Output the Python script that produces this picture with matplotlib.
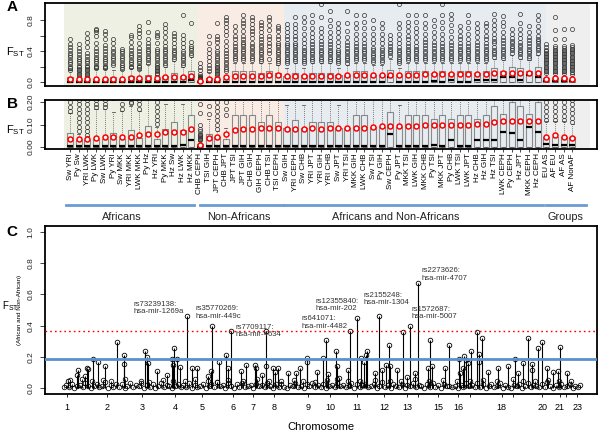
import matplotlib
matplotlib.use('Agg')
import matplotlib.pyplot as plt
from matplotlib.transforms import blended_transform_factory

plt.rcParams['font.family'] = ['Liberation Sans', 'DejaVu Sans']

# ---- panel A / B : pairwise FST boxplots ----
pairs = ['Sw YRI', 'Py Sw', 'YRI LWK', 'Py LWK', 'Sw LWK', 'Py YRI', 'Sw MKK', 'YRI MKK',
         'LWK MKK', 'Py Hz', 'Hz YRI', 'Py MKK', 'Hz Sw', 'Hz LWK', 'Hz MKK',
         'CHB CEPH', 'TSI GIH', 'JPT CEPH', 'CHB JPT', 'JPT TSI', 'JPT GIH', 'CHB GIH',
         'GIH CEPH', 'CHB TSI', 'TSI CEPH',
         'Sw GIH', 'YRI CEPH', 'Sw CHB', 'YRI JPT', 'YRI GIH', 'YRI CHB', 'Sw JPT', 'YRI TSI',
         'MKK GIH', 'LWK CHB', 'Sw TSI', 'Py GIH', 'Sw CEPH', 'Py JPT', 'MKK TSI', 'LWK GIH',
         'MKK CHB', 'Py TSI', 'MKK JPT', 'Py CHB', 'LWK TSI', 'LWK JPT', 'Hz CHB', 'Hz GIH',
         'Hz TSI', 'LWK CEPH', 'Py CEPH', 'Hz JPT', 'MKK CEPH', 'Hz CEPH',
         'EU AS', 'AF EU', 'AF AS', 'AF NonAF']

q3 = [.062, .033, .032, .035, .035, .062, .035, .074, .040, .095, .035, .080, .111, .077, .143,
      .012, .057, .043, .035, .145, .145, .145, .112, .145, .112,
      .084, .120, .087, .112, .112, .112, .087, .087, .144, .144, .090, .090, .157, .090, .144,
      .144, .144, .123, .144, .123, .144, .144, .123, .144, .184, .147, .200, .184, .147, .200,
      .047, .047, .047, .043]
med = [.003] * 13 + [.007, .032,
       .001, .003, .003, .003, .003, .003, .003, .003, .003, .003,
       .003, .003, .003, .003, .003, .003, .003, .003, .003, .003, .003, .003, .060, .003, .003,
       .003, .003, .009, .003, .030, .003, .003, .030, .030, .030, .068, .062, .030, .090, .065,
       .012, .010, .010, .010]
means = [.037, .037, .038, .040, .043, .046, .046, .047, .053, .058, .059, .065, .066, .068, .080,
         .010, .040, .045, .060, .077, .081, .081, .084, .086, .087,
         .079, .080, .080, .083, .080, .084, .083, .086, .087, .087, .090, .092, .092, .095, .096,
         .096, .098, .098, .099, .099, .100, .100, .103, .105, .112, .115, .115, .117, .117, .118,
         .044, .052, .047, .041]
whis = [.15, .06, .05, .17, .17, .155, .16, .185, .16, .235, .09, .19, .275, .19, .33,
        .025, .125, .07, .085, .25, .25, .25, .24, .25, .22,
        .187, .24, .187, .24, .24, .24, .187, .215, .25, .25, .225, .225, .30, .187, .25,
        .25, .25, .25, .25, .25, .25, .25, .25, .25, .30, .28, .35, .30, .28, .35,
        .115, .115, .115, .105]
fliers = [
    [.16, .18, .20, .23, .26, .29, .32, .35, .38, .41, .45, .49, .55],
    [.07, .09, .11, .13, .15, .17, .19, .21, .24, .27, .30, .33, .36, .40, .44, .49],
    [.055, .07, .09, .11, .13, .15, .17, .19, .21, .24, .27, .30, .34, .38, .45, .52, .57, .63],
    [.18, .19, .21, .24, .27, .30, .33, .36, .40, .44, .50, .60, .64, .67, .69],
    [.18, .19, .21, .24, .27, .30, .33, .36, .40, .44, .48, .55, .62, .66],
    [.22, .25, .28, .31, .34, .37, .40, .44, .50, .55],
    [.17, .19, .22, .25, .28, .31, .34, .37, .40, .43],
    [.195, .20, .23, .26, .29, .32, .35, .38, .41, .45, .52, .58, .61],
    [.17, .19, .21, .24, .27, .30, .33, .36, .40, .44, .50, .58, .63, .67, .72],
    [.25, .28, .31, .34, .37, .40, .43, .47, .51, .56, .65, .78],
    [.105, .12, .14, .16, .18, .20, .22, .25, .28, .31, .34, .37, .40, .43, .50, .58, .61, .65],
    [.22, .25, .28, .31, .34, .37, .40, .43, .46, .52, .58, .64, .70, .75],
    [.30, .33, .36, .39, .42, .45, .50, .55, .60, .63],
    [.22, .25, .28, .31, .34, .37, .40, .45, .50, .55, .61, .86],
    [.35, .38, .41, .44, .47, .52, .76],
    [.03, .035, .04, .045, .05, .055, .06, .07, .08, .10, .15, .19, .24],
    [.146, .183, .22, .27, .32, .37, .43, .50, .60],
    [.08, .10, .12, .14, .16, .18, .20, .22, .25, .28, .31, .34, .37, .40, .45, .52, .56, .60, .76],
    [.145, .17, .20, .23, .26, .30, .34, .37, .42, .46, .53, .61, .66, .71, .76, .80, .84],
    [.28, .31, .34, .37, .40, .43, .46, .50, .55, .60, .66, .72],
    [.28, .31, .34, .37, .40, .43, .46, .49, .52, .55, .60, .66, .72, .76, .80, .86],
    [.28, .31, .34, .37, .40, .44, .47, .50, .57, .62, .66, .70, .75, .80, .84],
    [.27, .30, .33, .36, .39, .42, .45, .48, .52, .55, .60, .64, .70, .74, .77],
    [.30, .37, .42, .46, .50, .55, .60, .67, .74, .80, .84],
    [.24, .27, .30, .33, .36, .39, .42, .45, .48, .51, .55, .60, .66, .70, .73],
    [.24, .27, .30, .33, .36, .39, .42, .45, .48, .51, .55, .60, .65, .70, .75],
    [.27, .30, .33, .36, .39, .42, .45, .48, .51, .55, .60, .65, .70, .75, .84],
    [.24, .27, .30, .33, .36, .39, .42, .45, .50, .55, .62, .70, .78, .84],
    [.27, .30, .33, .36, .39, .42, .45, .49, .53, .58, .63, .70, .78, .86],
    [.27, .30, .33, .36, .39, .42, .45, .49, .53, .58, .64, .70, .84, 1.01],
    [.27, .30, .33, .36, .39, .42, .45, .49, .53, .58, .64, .72, .80, .92],
    [.24, .27, .30, .33, .36, .39, .42, .46, .52, .58, .64, .70, .76],
    [.25, .28, .31, .34, .37, .40, .44, .48, .52, .58, .66, .76, .92],
    [.28, .31, .34, .37, .40, .43, .46, .50, .55, .62, .70, .76, .86],
    [.28, .31, .34, .37, .40, .43, .46, .50, .55, .62, .70, .78, .86],
    [.26, .29, .32, .35, .38, .41, .44, .50, .56, .62, .70, .80],
    [.26, .29, .32, .35, .38, .41, .44, .50, .56, .62, .70, .76],
    [.34, .37, .40, .43, .46, .50, .55, .61],
    [.24, .27, .30, .33, .36, .39, .42, .45, .50, .55, .62, .70, .76, 1.01],
    [.28, .31, .34, .37, .40, .43, .46, .50, .55, .60, .66, .72, .78, .86],
    [.28, .31, .34, .37, .40, .43, .47, .52, .58, .64, .70, .78, .86],
    [.28, .31, .34, .37, .40, .44, .48, .52, .56, .62, .70, .76, .86],
    [.28, .31, .34, .37, .40, .44, .48, .52, .58, .64, .72, .80],
    [.28, .31, .34, .37, .40, .43, .46, .50, .55, .62, .70, .78, .86, 1.01],
    [.28, .31, .34, .37, .40, .44, .48, .52, .58, .66, .74, .82, .88],
    [.28, .31, .34, .37, .40, .43, .46, .50, .55, .60, .66, .73],
    [.28, .31, .34, .37, .40, .43, .46, .50, .55, .62, .70, .78, .86],
    [.28, .31, .34, .37, .40, .44, .48, .52, .58, .64, .70, .76],
    [.28, .31, .34, .37, .40, .43, .46, .50, .55, .60, .66, .72, .76],
    [.33, .36, .39, .42, .45, .50, .53, .57, .62, .68, .74, .80, .88],
    [.31, .34, .37, .40, .43, .47, .50, .54, .58, .64, .72, .78, .85],
    [.38, .41, .44, .47, .50, .53, .57, .62, .69],
    [.33, .36, .39, .42, .45, .48, .52, .57, .62, .68, .76, .88],
    [.31, .34, .37, .40, .43, .47, .50, .54, .58, .64, .73],
    [.38, .41, .44, .47, .50, .53, .56, .60, .66, .72, .80, .86],
    [.12, .14, .16, .18, .20, .22, .24, .26, .28, .30, .32, .34, .36, .38, .40, .42, .45, .49],
    [.12, .14, .16, .18, .20, .22, .24, .26, .28, .30, .32, .34, .36, .38, .40, .42, .44, .46,
     .55, .67, .84],
    [.12, .14, .16, .18, .20, .22, .24, .26, .28, .30, .32, .34, .36, .38, .40, .42, .44, .46,
     .55, .69],
    [.11, .13, .15, .17, .19, .21, .23, .25, .27, .29, .31, .33, .35, .37, .39, .41, .43, .45,
     .48, .69],
]

# shaded comparison regions (in box-index units)
region_start = [0.31, 15.78, 25.71, 55.97]
region_end = [15.78, 25.71, 55.97, 61.05]
region_color = ['#edf0e3', '#f8ece4', '#e7ecf1', '#efefef']

groups = ['Africans', 'Non-Africans', 'Africans and Non-Africans', 'Groups']
group_start = [0.54, 16.0, 25.7, 55.96]
group_end = [15.3, 25.6, 55.6, 60.6]
group_text_x = [7.0, 20.5, 38.6, 58.2]

# ---- panel C : FST along the genome ----
chrom_labels = ['1', '2', '3', '4', '5', '6', '7', '8', '9', '10', '11', '12', '13', '',
                '15', '16', '', '18', '', '20', '21', '', '23']
chrom_pos = [21.7, 62.3, 97.3, 130, 156.7, 188.3, 208.3, 229.3, 263.3, 285, 311.7, 339.3,
             362.3, 372.7, 393.3, 413.3, 425, 456.7, 467.7, 497.3, 515, 521, 532.3]

peak_x = [22.7, 32.3, 33.3, 40, 42.3, 43.3, 47.7, 53.3, 60, 71.7, 79, 79.3, 100, 101.7, 103.3,
          111.7, 121.7, 127.3, 128.3, 129.3, 131.7, 135, 141.7, 146.7, 151.7, 163.3, 166, 167.3,
          174.3, 181, 183.3, 186, 195.7, 200.7, 210, 211, 216.7, 220.7, 220.7, 227.7, 230, 233.3,
          243.3, 251, 255, 261.7, 262.3, 271.7, 277.7, 281, 283.3, 290.7, 292.3, 294.3, 302.7,
          305, 312.3, 315.7, 319, 320.7, 322.3, 330, 334, 336.7, 341, 344, 345, 351.7, 358.3,
          362.3, 365, 370, 372.7, 383.3, 385, 387.3, 400, 404, 414.3, 415, 418.3, 419.3, 420.7,
          423.3, 426, 432.3, 433.7, 434.3, 436.7, 442.7, 453.3, 463.3, 470, 473.3, 477.7, 482.7,
          486.7, 486.7, 493.3, 497.3, 501.7, 508.3, 512.7, 515, 521.7]
peak_y = [.05, .085, .116, .078, .13, .122, .185, .17, .142, .296, .155, .215, .24, .202, .164,
          .113, .085, .187, .148, .26, .187, .137, .464, .127, .127, .079, .113, .398,
          .17, .215, .127, .368, .108, .148, .148, .127, .085, .365, .142, .133, .106, .127,
          .1, .1, .133, .17, .195, .106, .195, .309, .09, .238, .142, .068, .116,
          .365, .447, .191, .17, .215, .238, .1, .462, .116, .148, .277, .142, .12, .36,
          .07, .40, .095, .67, .127, .309, .142, .13, .277, .187, .1, .127, .204, .18,
          .159, .238, .36, .22, .17, .32, .106, .127, .142, .187, .1, .164, .32,
          .155, .116, .26, .295, .127, .106, .113, .266, .1]

mid_x = [25, 37, 47, 58, 66, 80, 96, 104, 118, 128, 140, 150, 163, 172, 183, 198, 212, 224,
         236, 249, 258, 270, 282, 292, 303, 315, 330, 345, 356, 370, 384, 398, 412, 425, 438,
         452, 468, 478, 490, 503, 514, 526]
mid_y = [.052, .06, .045, .055, .048, .06, .05, .042, .055, .05, .045, .058, .05, .042, .055,
         .048, .06, .05, .045, .055, .05, .04, .055, .06, .045, .05, .055, .045, .05, .06, .048,
         .052, .045, .05, .055, .045, .06, .05, .045, .055, .048, .05]

base_x = [19, 21, 24, 27, 29, 32, 35, 38, 40, 43, 46, 49, 52, 54, 57, 60, 63, 66, 68, 71,
          74, 77, 80, 82, 85, 88, 91, 94, 96, 99, 102, 105, 108, 110, 113, 116, 119, 122, 124, 127,
          130, 133, 136, 138, 141, 144, 147, 150, 152, 155, 158, 161, 164, 166, 169, 172, 175, 178,
          180, 183, 186, 189, 192, 194, 197, 200, 203, 206, 208, 211, 214, 217, 220, 222, 225, 228,
          231, 234, 236, 239, 242, 245, 248, 250, 253, 256, 259, 262, 264, 267, 270, 273, 276, 278,
          281, 284, 287, 290, 292, 295, 298, 301, 304, 306, 309, 312, 315, 318, 320, 323, 326, 329,
          332, 334, 337, 340, 343, 346, 348, 351, 354, 357, 360, 362, 365, 368, 371, 374, 376, 379,
          382, 385, 388, 390, 393, 396, 399, 402, 404, 407, 410, 413, 416, 418, 421, 424, 427, 430,
          432, 435, 438, 441, 444, 446, 449, 452, 455, 458, 460, 463, 466, 469, 472, 474, 477, 480,
          483, 486, 488, 491, 494, 497, 500, 502, 505, 508, 511, 514, 516, 519, 522, 525, 528, 530,
          533, 535]
base_y = [.006, .020, .010, .030, .003, .015, .024, .008, .034, .012, .002, .018, .027, .007, .014,
          .038, .004, .022, .011, .029,
          .009, .025, .004, .016, .031, .007, .021, .012, .036, .003, .019, .010, .028, .005, .017,
          .033, .008, .023, .013, .002,
          .014, .030, .006, .020, .011, .035, .004, .024, .009, .017, .029, .003, .015, .026, .008,
          .040, .012, .021, .005, .031,
          .018, .004, .027, .010, .033, .006, .015, .023, .002, .030, .012, .020, .008, .036, .016,
          .005, .025, .011, .028, .007,
          .003, .022, .013, .031, .008, .018, .004, .026, .014, .037, .006, .020, .010, .029, .002,
          .016, .024, .009, .033, .012,
          .021, .007, .015, .034, .004, .025, .011, .019, .030, .006, .013, .027, .003, .017, .038,
          .009, .022, .005, .028, .014,
          .010, .028, .005, .019, .012, .032, .007, .023, .015, .003, .026, .009, .035, .011, .020,
          .004, .030, .013, .018, .006,
          .016, .003, .024, .009, .031, .013, .020, .006, .036, .011, .025, .004, .018, .029, .008,
          .014, .034, .002, .022, .010,
          .005, .019, .012, .028, .003, .017, .033, .008, .022, .014, .006, .027, .010, .038, .015,
          .004, .024, .011, .030, .007,
          .013, .026, .005, .018, .009, .022]

ann_text = ['rs73239138:\nhsa-mir-1269a', 'rs35770269:\nhsa-mir-449c', 'rs7709117:\nhsa-mir-4634',
            'rs641071:\nhsa-mir-4482', 'rs12355840:\nhsa-mir-202', 'rs2155248:\nhsa-mir-1304',
            'rs1572687:\nhsa-mir-5007', 'rs2273626:\nhsa-mir-4707']
ann_x = [88, 150, 191, 256, 271, 319, 366, 376]
ann_y = [.513, .484, .364, .42, .533, .572, .479, .727]

mean_fst = 0.187
cutoff = 0.368

# ---------------------------------------------------------------
fig = plt.figure(figsize=(6, 4.32), dpi=100)
axA = fig.add_axes([0.075, 0.801, 0.92, 0.192])
axB = fig.add_axes([0.075, 0.655, 0.92, 0.1135])
axC = fig.add_axes([0.075, 0.088, 0.92, 0.389])

stats = []
for i in range(len(pairs)):
    stats.append(dict(label=pairs[i], q1=0.0, med=med[i], q3=q3[i], whislo=0.0,
                      whishi=whis[i], mean=means[i], fliers=fliers[i]))
positions = list(range(1, len(pairs) + 1))

for ax in (axA, axB):
    for s, e, c in zip(region_start, region_end, region_color):
        ax.axvspan(s, e, color=c, lw=0, zorder=0)
    ax.bxp(stats, positions=positions, widths=0.7, showmeans=True, showfliers=True,
           manage_ticks=False, capwidths=0.35,
           boxprops=dict(color='#8a8a8a', lw=0.8),
           whiskerprops=dict(color='#555555', lw=0.6, ls=(0, (1, 1.5))),
           capprops=dict(color='#555555', lw=0.6),
           medianprops=dict(color='black', lw=1.6),
           flierprops=dict(marker='o', mfc='none', mec='#333333', ms=3, mew=0.5),
           meanprops=dict(marker='o', mfc='white', mec='red', ms=3.6, mew=1.1))
    ax.set_xlim(-1.887, 61.85)
    for sp in ax.spines.values():
        sp.set_linewidth(1.3)

axA.set_ylim(-0.05, 1.02)
axA.set_yticks([0, .2, .4, .6, .8])
axA.set_yticklabels(['0.0', '', '0.4', '', '0.8'])
axA.set_xticks([])

axB.set_ylim(-0.009, 0.21)
axB.set_yticks([0, .1, .2])
axB.set_yticklabels(['0.00', '0.10', '0.20'])
axB.set_xticks(positions)
axB.set_xticklabels(pairs, rotation=90, fontsize=5.8, va='top')
axB.tick_params(axis='x', length=2, width=0.5, pad=1)

trans = blended_transform_factory(axB.transData, axB.transAxes)
for name, s, e, tx in zip(groups, group_start, group_end, group_text_x):
    axB.plot([s, e], [-1.143, -1.143], color='#6b9bd2', lw=2, transform=trans, clip_on=False)
    axB.text(tx, -1.39, name, transform=trans, ha='center', va='center', fontsize=7.8,
             color='#222222')

# panel C
axC.vlines(base_x, 0, base_y, color='black', lw=0.6)
axC.plot(base_x, base_y, 'o', mfc='none', mec='black', ms=3.3, mew=0.55)
axC.vlines(mid_x, 0, mid_y, color='black', lw=0.6)
axC.plot(mid_x, mid_y, 'o', mfc='none', mec='black', ms=3.3, mew=0.55)
axC.vlines(peak_x, 0, peak_y, color='black', lw=0.8)
axC.plot(peak_x, peak_y, 'o', mfc='none', mec='black', ms=3.3, mew=0.6)
axC.axhline(mean_fst, color='#5b8fcf', lw=2, zorder=3)
axC.axhline(cutoff, color='red', lw=1, ls=(0, (1.2, 2.2)), zorder=3)
for t, x, y in zip(ann_text, ann_x, ann_y):
    axC.text(x, y, t, fontsize=5.6, ha='left', va='center', color='#333333', linespacing=1.05)
axC.set_xlim(0, 552)
axC.set_ylim(-0.036, 1.037)
axC.set_yticks([0, .2, .4, .6, .8, 1.0])
axC.set_yticklabels(['0.0', '0.2', '0.4', '0.6', '0.8', '1.0'])
axC.set_xticks(chrom_pos)
axC.set_xticklabels(chrom_labels, fontsize=6.5)
axC.tick_params(axis='x', length=2.5, width=0.6, pad=4)
for sp in axC.spines.values():
    sp.set_linewidth(1.3)

for ax in (axA, axB, axC):
    ax.tick_params(axis='y', length=3.5, width=0.6, pad=4, labelsize=6, colors='#222222')
    for lab in ax.get_yticklabels():
        lab.set_rotation(90)
        lab.set_va('center')

fig.text(12 / 600, 1 - 7 / 432, 'A', fontsize=11, fontweight='bold', ha='center', va='center')
fig.text(12 / 600, 1 - 104 / 432, 'B', fontsize=11, fontweight='bold', ha='center', va='center')
fig.text(12 / 600, 1 - 232 / 432, 'C', fontsize=11, fontweight='bold', ha='center', va='center')
fig.text(15 / 600, 1 - 52 / 432, r'F$_{\mathregular{ST}}$', fontsize=8, ha='center', va='center')
fig.text(15 / 600, 1 - 130 / 432, r'F$_{\mathregular{ST}}$', fontsize=8, ha='center', va='center')
fig.text(2 / 600, 1 - 306 / 432, r'F$_{\mathregular{ST}}$', fontsize=7, ha='left', va='center')
fig.text(20 / 600, 1 - 310 / 432, '(African and Non-African)', fontsize=4.5, rotation=90,
         ha='center', va='center')
fig.text(321 / 600, 1 - 427 / 432, 'Chromosome', fontsize=8, ha='center', va='center')

fig.savefig('out.png', dpi=100)
